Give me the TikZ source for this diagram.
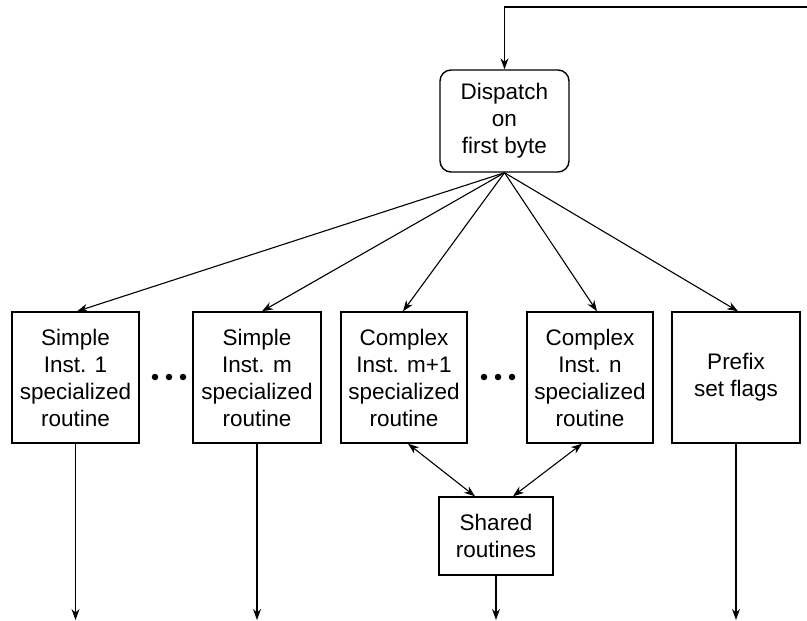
\documentclass[tikz,border=0pt]{standalone}
\usepackage{fontspec}
\setmainfont{Liberation Sans}
\usetikzlibrary{calc,arrows.meta}
\begin{document}
\begin{tikzpicture}[x=1pt,y=-1pt,
  box/.style={draw,line width=1.4pt,align=center,inner sep=0pt,
    font=\fontsize{22.5}{27}\selectfont,minimum height=131pt},
  arr/.style={line width=1.1pt,-{Stealth[length=11pt,width=8pt]}},
  darr/.style={line width=1.1pt,{Stealth[length=11pt,width=8pt]}-{Stealth[length=11pt,width=8pt]}},
  dot/.style={fill,circle,inner sep=0pt,minimum size=6.5pt}]
\useasboundingbox (0,0) rectangle (807,621);
\node[box,rounded corners=11pt,minimum width=129pt,minimum height=102pt] (disp) at (504.5,121) {Dispatch\\on\\first byte};
\node[box,minimum width=127pt] (b1) at (75.5,377.5) {Simple\\Inst. 1\\specialized\\routine};
\node[box,minimum width=128pt] (b2) at (257,377.5) {Simple\\Inst. m\\specialized\\routine};
\node[box,minimum width=126pt] (b3) at (404,377.5) {Complex\\Inst. m+1\\specialized\\routine};
\node[box,minimum width=126pt] (b4) at (590,377.5) {Complex\\Inst. n\\specialized\\routine};
\node[box,minimum width=128pt] (b5) at (736,377.5) {Prefix\\set flags};
\node[box,minimum width=114pt,minimum height=78pt] (sh) at (496,536) {Shared\\routines};
\node[dot] (d1) at (155,377) {};
\node[dot] (d2) at (169,377) {};
\node[dot] (d3) at (183,377) {};
\node[dot] (d4) at (484,377) {};
\node[dot] (d5) at (498,377) {};
\node[dot] (d6) at (512,377) {};
\coordinate (top) at (807,7);
\coordinate (e1) at (75.5,620);
\coordinate (e2) at (257,620);
\coordinate (e3) at (496,620);
\coordinate (e5) at (736,620);
\draw[arr] (top) -| (disp.north);
\draw[arr] (disp.south) -- ($(b1.north)+(1.5,0)$);
\draw[arr] (disp.south) -- ($(b2.north)+(5,0)$);
\draw[arr] (disp.south) -- ($(b3.north)+(-1,0)$);
\draw[arr] (disp.south) -- ($(b4.north)+(7,0)$);
\draw[arr] (disp.south) -- ($(b5.north)+(2,0)$);
\draw[darr] ($(b3.south)+(4,0)$) -- ($(sh.north)+(-21,0)$);
\draw[darr] ($(b4.south)+(-8,0)$) -- ($(sh.north)+(17,0)$);
\draw[arr] (b1.south) -- (e1);
\draw[arr] (b2.south) -- (e2);
\draw[arr] (sh.south) -- (e3);
\draw[arr] (b5.south) -- (e5);
\end{tikzpicture}
\end{document}
